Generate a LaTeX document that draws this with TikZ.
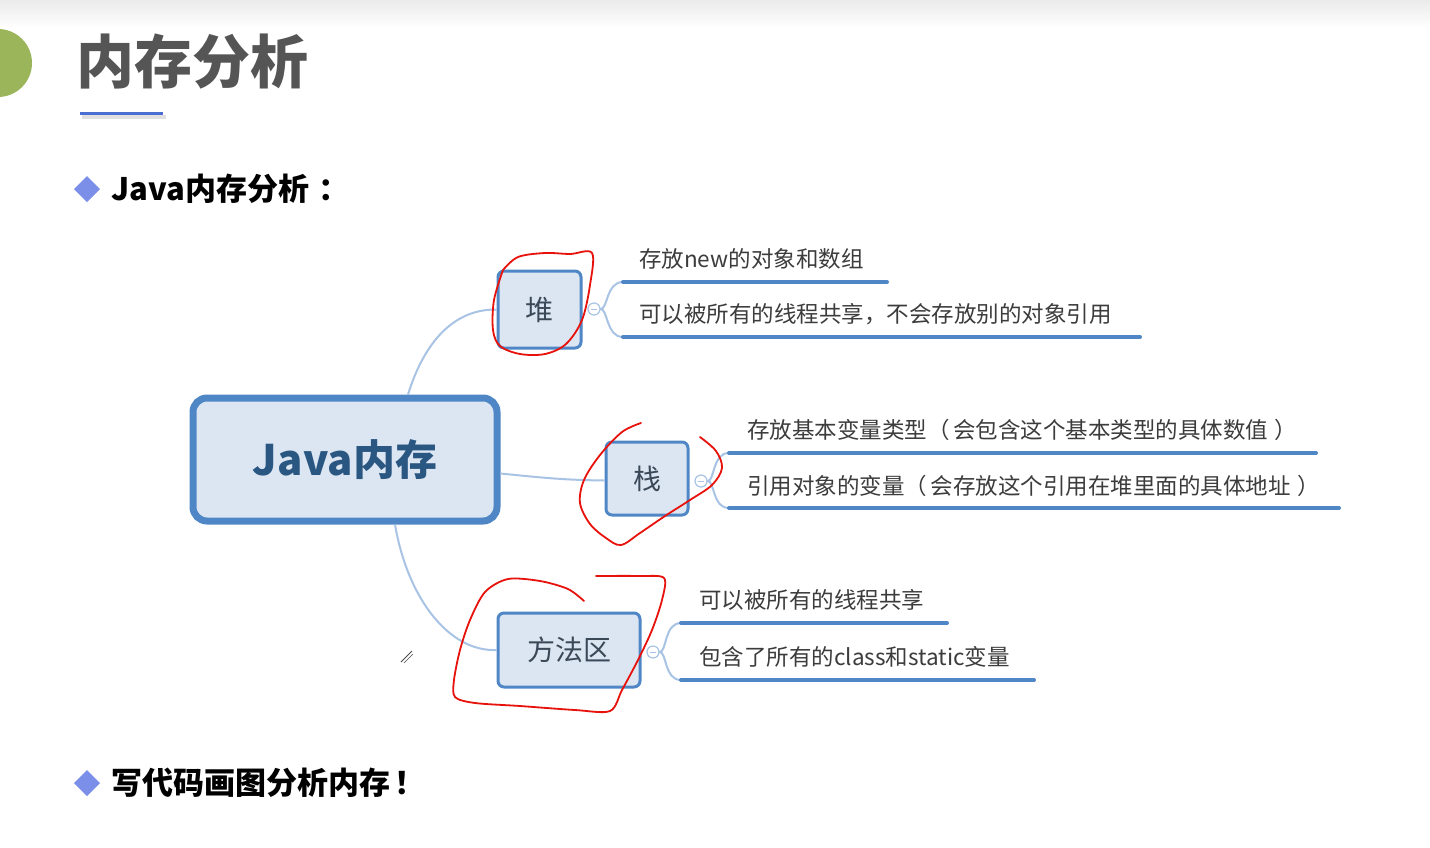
\documentclass[tikz,border=0pt]{standalone}
\usepackage{fontspec}
\setmainfont{Noto Sans CJK SC}
\usetikzlibrary{calc}
\definecolor{boxblue}{HTML}{4F86C6}
\definecolor{boxfill}{HTML}{DCE6F2}
\definecolor{connblue}{HTML}{A9C3E4}
\definecolor{titlegray}{HTML}{555555}
\definecolor{leafgray}{HTML}{3C3C3C}
\definecolor{nodetext}{HTML}{3A4858}
\definecolor{centertext}{HTML}{2A5682}
\definecolor{bulletblue}{HTML}{7B8FE8}
\definecolor{ulblue}{HTML}{4A6FD0}
\definecolor{leafgreen}{HTML}{9BB55A}
\definecolor{inkred}{HTML}{E8120C}
\tikzset{
  childbox/.style={draw=boxblue, fill=boxfill, line width=3pt, rounded corners=6pt, inner sep=0pt, text=nodetext, font=\fontsize{28}{30}\selectfont},
  centerbox/.style={draw=boxblue, fill=boxfill, line width=7pt, rounded corners=14pt, inner sep=0pt, text=centertext, font=\bfseries\fontsize{42}{44}\selectfont},
  conn/.style={draw=connblue, line width=2pt},
  leafline/.style={draw=boxblue, line width=4pt, line cap=round},
  leaftext/.style={anchor=west, inner sep=0pt, text=leafgray, font=\fontsize{22.5}{24}\selectfont},
  collapse/.style={circle, draw=connblue, fill=white, line width=1.2pt, minimum size=12pt, inner sep=0pt},
  ink/.style={draw=inkred, line width=1.8pt, line cap=round, line join=round},
  bullettext/.style={anchor=west, inner sep=0pt, font=\bfseries\fontsize{31}{33}\selectfont},
  diam/.style={fill=bulletblue}
}
\begin{document}
\begin{tikzpicture}[x=1pt,y=-1pt]
\useasboundingbox (0,0) rectangle (1430,847);
\fill[white] (0,0) rectangle (1430,847);
\shade[top color=black!8, bottom color=white] (0,0) rectangle (1430,28);
% title
\fill[leafgreen] (-2,63) circle (34pt);
\node[anchor=west, inner sep=0pt, text=titlegray, font=\bfseries\fontsize{58}{60}\selectfont] (title) at (76,62) {内存分析};
\fill[black!12] (82,115) rectangle (166,119);
\draw[ulblue, line width=3pt] (80,113) -- (163,113);
% bullets
\fill[diam] (87,176) -- (100,189) -- (87,202) -- (74,189) -- cycle;
\node[bullettext] (b1) at (111,189) {Java内存分析\hspace{0.3em}：};
\fill[diam] (87,770) -- (100,783) -- (87,796) -- (74,783) -- cycle;
\node[bullettext] (b2) at (111,783) {写代码画图分析内存\hspace{0.15em}！};
% mind map nodes
\node[centerbox, minimum width=304pt, minimum height=123pt] (c) at (345,459.5) {Java内存};
\node[childbox, minimum width=83pt, minimum height=77pt] (heap) at (539.5,309.5) {堆};
\node[childbox, minimum width=82pt, minimum height=73pt] (stack) at (647,478.5) {栈};
\node[childbox, minimum width=142pt, minimum height=74pt] (method) at (569,650) {方法区};
% connectors
\draw[conn] ($(c.north)+(63,0)$) .. controls (425,340) and (455,309) .. (heap.west);
\draw[conn] ($(c.east)+(0,14)$) .. controls (545,478) and (565,480) .. ($(stack.west)+(0,2)$);
\draw[conn] ($(c.south)+(50,0)$) .. controls (408,600) and (450,652) .. (method.west);
% collapse markers and braces
\node[collapse] (hc) at (594,309) {};
\draw[connblue, line width=1pt] ($(hc.center)+(-3,0)$) -- ($(hc.center)+(3,0)$);
\node[collapse] (sc) at (701,481) {};
\draw[connblue, line width=1pt] ($(sc.center)+(-3,0)$) -- ($(sc.center)+(3,0)$);
\node[collapse] (mc) at (653,652) {};
\draw[connblue, line width=1pt] ($(mc.center)+(-3,0)$) -- ($(mc.center)+(3,0)$);
% heap leaves
\coordinate (h1s) at (623,282); \coordinate (h1e) at (887,282);
\coordinate (h2s) at (623,337); \coordinate (h2e) at (1140,337);
\draw[conn] (hc.east) .. controls (608,309) and (606,282) .. (h1s);
\draw[conn] (hc.east) .. controls (608,309) and (606,337) .. (h2s);
\draw[leafline] (h1s) -- (h1e);
\draw[leafline] (h2s) -- (h2e);
\node[leaftext] (h1) at (639,259) {存放new的对象和数组};
\node[leaftext] (h2) at (639,314) {可以被所有的线程共享，不会存放别的对象引用};
% stack leaves
\coordinate (s1s) at (729,453); \coordinate (s1e) at (1316,453);
\coordinate (s2s) at (729,508); \coordinate (s2e) at (1339,508);
\draw[conn] (sc.east) .. controls (715,481) and (712,453) .. (s1s);
\draw[conn] (sc.east) .. controls (715,481) and (712,508) .. (s2s);
\draw[leafline] (s1s) -- (s1e);
\draw[leafline] (s2s) -- (s2e);
\node[leaftext] (s1) at (747,430) {存放基本变量类型（\hspace{0.15em}会包含这个基本类型的具体数值\hspace{0.3em}）};
\node[leaftext] (s2) at (747,486) {引用对象的变量（\hspace{0.15em}会存放这个引用在堆里面的具体地址\hspace{0.3em}）};
% method area leaves
\coordinate (m1s) at (681,623); \coordinate (m1e) at (947,623);
\coordinate (m2s) at (681,680); \coordinate (m2e) at (1034,680);
\draw[conn] (mc.east) .. controls (667,652) and (664,623) .. (m1s);
\draw[conn] (mc.east) .. controls (667,652) and (664,680) .. (m2s);
\draw[leafline] (m1s) -- (m1e);
\draw[leafline] (m2s) -- (m2e);
\node[leaftext] (m1) at (699,600) {可以被所有的线程共享};
\node[leaftext] (m2) at (699,657) {包含了所有的class和static变量};
% red hand-drawn marks
\draw[ink] plot[smooth, tension=0.55] coordinates {(503,270) (518,257) (545,253) (570,254) (592,253) (590,285) (582,320) (566,344) (545,354) (520,354) (500,346) (493,330) (494,300) (503,270)};
\draw[ink] plot[smooth, tension=0.55] coordinates {(641,423) (622,432) (600,455) (584,480) (580,503) (590,524) (606,538) (621,545) (640,533) (665,516) (690,500) (712,485) (722,468) (716,451) (700,437)};
\draw[ink] plot[smooth, tension=0.5] coordinates {(584,601) (568,589) (540,581) (508,579) (485,592) (470,620) (460,650) (454,680) (455,697) (475,703) (520,706) (575,710) (610,711) (622,690) (638,660) (652,630) (662,600) (664,578) (640,576) (596,576)};
% small pencil cursor
\draw[black!70, line width=0.8pt] (401,662) -- (412,651);
\draw[black!70, line width=0.6pt] (404,663) -- (413,654);
\end{tikzpicture}
\end{document}
